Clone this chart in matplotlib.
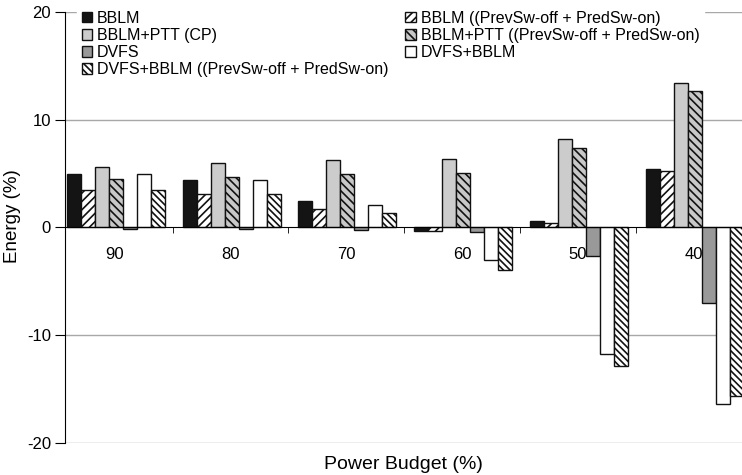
import numpy as np
from matplotlib import pyplot as plt
from matplotlib.patches import Patch

plt.rcParams['font.family'] = ['Liberation Sans', 'DejaVu Sans']
plt.rcParams['hatch.linewidth'] = 1.2
plt.rcParams['axes.unicode_minus'] = False

# data
budgets = ['90', '80', '70', '60', '50', '40']
bblm = [5.0, 4.4, 2.45, -0.35, 0.6, 5.45]
bblm_sw = [3.5, 3.1, 1.7, -0.3, 0.45, 5.2]
bblm_ptt_cp = [5.65, 6.0, 6.25, 6.35, 8.2, 13.4]
bblm_ptt_sw = [4.5, 4.7, 5.0, 5.1, 7.4, 12.7]
dvfs = [-0.15, -0.15, -0.25, -0.4, -2.65, -7.05]
dvfs_bblm = [4.95, 4.4, 2.05, -3.0, -11.7, -16.4]
dvfs_bblm_sw = [3.45, 3.1, 1.35, -3.9, -12.85, -15.65]

labels = ['BBLM', 'BBLM ((PrevSw-off + PredSw-on)', 'BBLM+PTT (CP)',
          'BBLM+PTT ((PrevSw-off + PredSw-on)', 'DVFS', 'DVFS+BBLM',
          'DVFS+BBLM ((PrevSw-off + PredSw-on)']
series = [bblm, bblm_sw, bblm_ptt_cp, bblm_ptt_sw, dvfs, dvfs_bblm, dvfs_bblm_sw]
styles = [('#141414', ''), ('white', '////'), ('#cccccc', ''), ('#c8c8c8', '\\\\\\\\'),
          ('#999999', ''), ('white', ''), ('white', '\\\\\\\\\\')]

fig = plt.figure(figsize=(7.42, 4.75), dpi=100)
ax = fig.add_axes([65 / 742, 1 - 443 / 475, 1 - 65 / 742, (443 - 12) / 475])

x = np.arange(len(budgets))
w = 0.121
handles = {}
for k in range(len(series)):
    fc, h = styles[k]
    ax.bar(x + (k - 3) * w + 0.01, series[k], w, color=fc, hatch=h,
           edgecolor='#111111', linewidth=1.0, zorder=3)
    handles[labels[k]] = Patch(facecolor=fc, hatch=h, edgecolor='#111111', linewidth=1.0)

ax.set_ylim(-20, 20)
ax.set_xlim(-0.431, 5.42)
ax.set_yticks([-20, -10, 0, 10, 20])
for yv in [-20, -10, 10, 20]:
    ax.axhline(yv, color='#a8a8a8', linewidth=1.0, zorder=1)

ax.spines['top'].set_visible(False)
ax.spines['right'].set_visible(False)
ax.spines['bottom'].set_position(('data', 0))
ax.spines['bottom'].set_zorder(4)

ax.set_xticks(x)
ax.set_xticklabels(budgets, fontsize=12)
ax.set_xticks(x[:-1] + 0.5, minor=True)
ax.tick_params(axis='x', which='major', length=0, pad=14)
ax.tick_params(axis='x', which='minor', length=4, direction='out')
ax.tick_params(axis='y', labelsize=12, length=7, pad=3)

fig.text(13 / 742, 1 - 216.5 / 475, 'Energy (%)', fontsize=13.5, rotation=90,
         ha='center', va='center')
ax.set_xlabel('Power Budget (%)', fontsize=14)
ax.xaxis.set_label_coords(0.5, -0.03)

order = ['BBLM', 'BBLM+PTT (CP)', 'DVFS', 'DVFS+BBLM ((PrevSw-off + PredSw-on)',
         'BBLM ((PrevSw-off + PredSw-on)', 'BBLM+PTT ((PrevSw-off + PredSw-on)', 'DVFS+BBLM']
leg = ax.legend([handles[n] for n in order], order, ncol=2, loc='upper left',
                bbox_to_anchor=(69 / 742, 1 + 2 / 475), bbox_transform=fig.transFigure,
                fontsize=11.5, frameon=True,
                handlelength=0.65, handleheight=0.65, handletextpad=0.3,
                columnspacing=1.06, labelspacing=0.13, borderpad=0.3)
leg.get_frame().set_edgecolor('white')
leg.get_frame().set_facecolor('white')
leg.get_frame().set_alpha(1)
leg.get_frame().set_boxstyle('square', pad=0)
leg.set_zorder(2)

fig.savefig('out.png', dpi=100)
